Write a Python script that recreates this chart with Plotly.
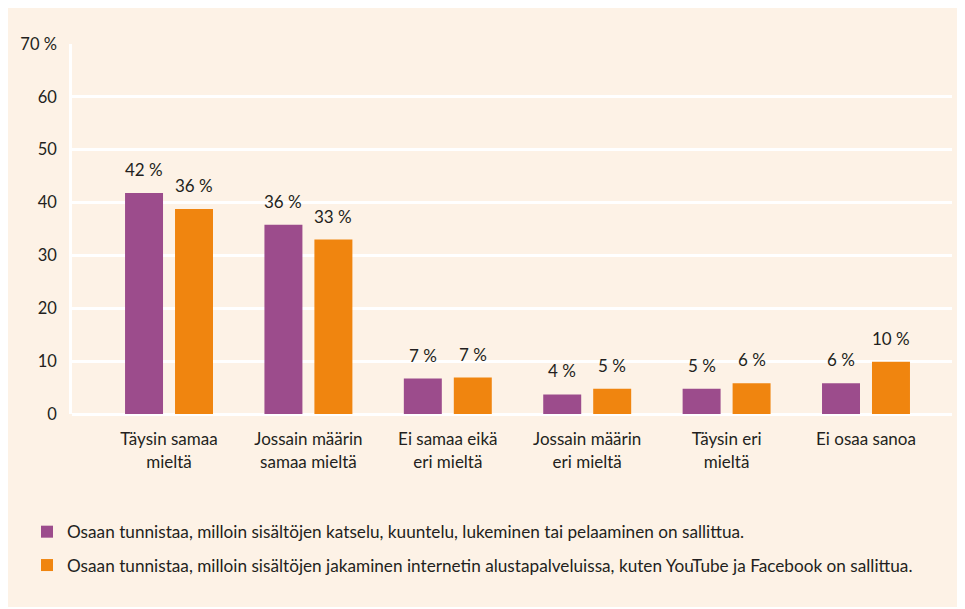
import plotly.graph_objects as go

categories = [
    "Täysin samaa<br>mieltä",
    "Jossain määrin<br>samaa mieltä",
    "Ei samaa eikä<br>eri mieltä",
    "Jossain määrin<br>eri mieltä",
    "Täysin eri<br>mieltä",
    "Ei osaa sanoa",
]
series_names = [
    "Osaan tunnistaa, milloin sisältöjen katselu, kuuntelu, lukeminen tai pelaaminen on sallittua.",
    "Osaan tunnistaa, milloin sisältöjen jakaminen internetin alustapalveluissa, kuten YouTube ja Facebook on sallittua.",
]
purple_values = [41.8, 35.8, 6.7, 3.7, 4.8, 5.8]
orange_values = [38.8, 33.0, 6.9, 4.8, 5.8, 9.9]
purple_labels = ["42 %", "36 %", "7 %", "4 %", "5 %", "6 %"]
orange_labels = ["36 %", "33 %", "7 %", "5 %", "6 %", "10 %"]
y_tickvals = [0, 10, 20, 30, 40, 50, 60, 70]
y_ticktext = ["0", "10", "20", "30", "40", "50", "60", "70 %"]

PURPLE = "#9c4c8c"
ORANGE = "#f0850f"
CREAM = "#fdf2e6"
TEXT = "#231f20"
FONT = "Lato, sans-serif"

# figure is placed by the page at (8, 8)
W, H = 957, 599
ML, MR, MT, MB = 64, 13, 36, 193
PW, PH = W - ML - MR, H - MT - MB


def px_x(px):
    return (px - ML) / PW


def px_y(py):
    return (H - MB - py) / PH


fig = go.Figure()
fig.add_trace(go.Bar(x=categories, y=purple_values, name=series_names[0],
                     marker=dict(color=PURPLE, line=dict(width=0)),
                     legendgroup="a", hoverinfo="skip"))
fig.add_trace(go.Bar(x=categories, y=orange_values, name=series_names[1],
                     marker=dict(color=ORANGE, line=dict(width=0)),
                     legendgroup="b", hoverinfo="skip"))

annotations = []
for cat, v, t in zip(categories, purple_values, purple_labels):
    annotations.append(dict(x=cat, y=v, text=t, xshift=-25, yshift=11,
                            yanchor="bottom", showarrow=False,
                            font=dict(size=17, color=TEXT, family=FONT)))
for cat, v, t in zip(categories, orange_values, orange_labels):
    annotations.append(dict(x=cat, y=v, text=t, xshift=25, yshift=11,
                            yanchor="bottom", showarrow=False,
                            font=dict(size=17, color=TEXT, family=FONT)))

fig.update_layout(
    width=W, height=H,
    margin=dict(l=ML, r=MR, t=MT, b=MB, pad=0),
    paper_bgcolor=CREAM,
    plot_bgcolor="rgba(0,0,0,0)",
    font=dict(family=FONT, size=17, color=TEXT),
    barmode="group",
    bargap=0.283,
    bargroupgap=0.24,
    showlegend=True,
    legend=dict(
        x=px_x(19), y=px_y(506), xanchor="left", yanchor="top",
        orientation="v", traceorder="grouped", tracegroupgap=8,
        bgcolor="rgba(0,0,0,0)", font=dict(size=17.2, color=TEXT, family=FONT),
    ),
    xaxis=dict(
        type="category",
        range=[-0.696, 5.617],
        showgrid=False, zeroline=False, showline=False,
        ticks="outside", ticklen=10, tickcolor="rgba(0,0,0,0)",
        tickfont=dict(size=17, color=TEXT, family=FONT),
    ),
    yaxis=dict(
        range=[0, 70],
        tickvals=y_tickvals, ticktext=y_ticktext,
        showgrid=True, gridcolor="white", gridwidth=2.5,
        zeroline=True, zerolinecolor="white", zerolinewidth=2.5,
        showline=True, linecolor="white", linewidth=2.5,
        ticks="outside", ticklen=9, tickcolor="rgba(0,0,0,0)",
        tickfont=dict(size=16.5, color=TEXT, family=FONT),
    ),
    annotations=annotations,
)

fig.write_html("out.html")
